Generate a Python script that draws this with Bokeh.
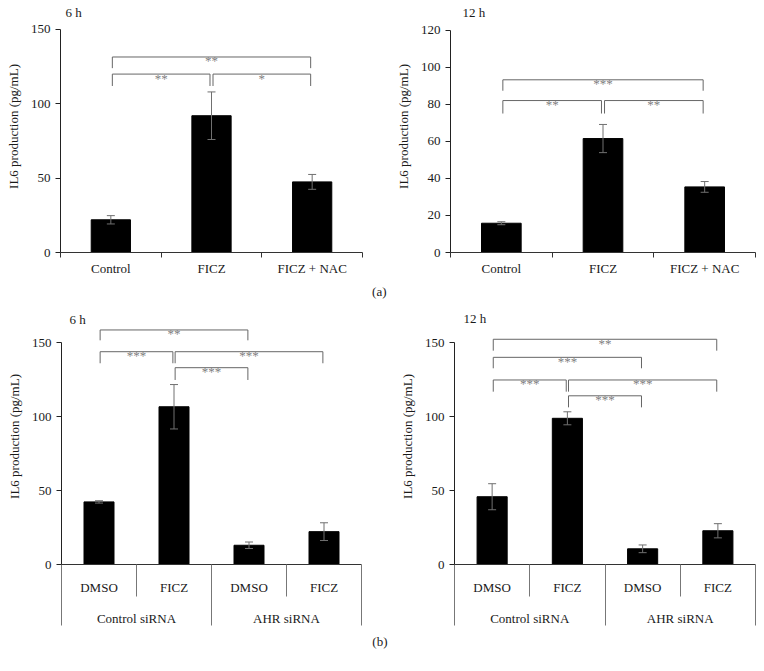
from bokeh.plotting import figure
from bokeh.models import (ColumnDataSource, Range1d, LinearAxis, FixedTicker,
                          Whisker, TeeHead, Label, Title)
from bokeh.layouts import column, row
from bokeh.core.properties import value
from bokeh.embed import file_html
from bokeh.resources import INLINE

FONT = "Liberation Serif"

# ---------------- data ----------------
# (a) 6 h
a6_categories = ["Control", "FICZ", "FICZ + NAC"]
a6_values = [22, 92, 47.5]
a6_errors = [2.8, 16, 5]
a6_br_from = [0, 1, 0]
a6_br_to = [1, 2, 2]
a6_br_level = [120, 120, 131.5]
a6_br_drop = [112, 112, 124]
a6_br_text = ["**", "*", "**"]
a6_yticks = [0, 50, 100, 150]

# (a) 12 h
a12_categories = ["Control", "FICZ", "FICZ + NAC"]
a12_values = [15.8, 61.5, 35.4]
a12_errors = [0.8, 7.6, 2.9]
a12_br_from = [0, 1, 0]
a12_br_to = [1, 2, 2]
a12_br_level = [82, 82, 93.2]
a12_br_drop = [75, 75, 87.3]
a12_br_text = ["**", "**", "***"]
a12_yticks = [0, 20, 40, 60, 80, 100, 120]

# (b) 6 h
b_treatments = ["DMSO", "FICZ", "DMSO", "FICZ"]
b_groups = ["Control siRNA", "AHR siRNA"]
b6_values = [42.3, 106.6, 13.0, 22.2]
b6_errors = [0.8, 15, 2.2, 6]
b6_br_from = [0, 0, 1, 1]
b6_br_to = [2, 1, 3, 2]
b6_br_level = [158.5, 143.8, 143.8, 133]
b6_br_drop = [151.5, 136, 136, 124.7]
b6_br_text = ["**", "***", "***", "***"]

# (b) 12 h
b12_values = [45.8, 98.8, 10.6, 22.8]
b12_errors = [8.8, 4.4, 2.6, 4.8]
b12_br_from = [0, 0, 0, 1, 1]
b12_br_to = [3, 2, 1, 3, 2]
b12_br_level = [152.2, 140, 124.7, 124.7, 114]
b12_br_drop = [144.5, 132.6, 116.8, 116.8, 106.2]
b12_br_text = ["**", "***", "***", "***", "***"]
b_yticks = [0, 50, 100, 150]

Y_LABEL = "IL6 production (pg/mL)"
TEXT_COLOR = "#1a1a1a"
GRAY = "#777777"


def style_labels(ax):
    ax.major_label_text_font = FONT
    ax.major_label_text_font_size = "13px"
    ax.major_label_text_color = TEXT_COLOR


def make_panel(title, cats, vals, errs, bfrom, bto, blevel, bdrop, btext,
               yticks, y_end, width, height, mbl, mbr, mbb, bar_width,
               title_dx, title_dy, groups=None):
    n = len(cats)
    p = figure(width=width, height=height, output_backend="svg",
               toolbar_location=None, x_axis_location=None, y_axis_location=None,
               x_range=Range1d(0, n), y_range=Range1d(0, y_end),
               min_border_left=mbl, min_border_right=mbr,
               min_border_top=0, min_border_bottom=mbb)
    p.outline_line_color = None
    for g in p.grid:
        g.visible = False

    xs = [i + 0.5 for i in range(n)]
    src = ColumnDataSource(dict(x=xs, top=vals,
                                upper=[v + e for v, e in zip(vals, errs)],
                                lower=[v - e for v, e in zip(vals, errs)]))
    p.vbar(x="x", top="top", width=bar_width, source=src,
           fill_color="black", line_color="black")
    p.add_layout(Whisker(base="x", upper="upper", lower="lower", source=src,
                         level="overlay",
                         line_color="#707070", line_width=1,
                         upper_head=TeeHead(size=8, line_color="#707070"),
                         lower_head=TeeHead(size=8, line_color="#707070")))

    # significance brackets
    gap = 0.015
    bx, by, tx, ty = [], [], [], []
    for f, t, lv, dr in zip(bfrom, bto, blevel, bdrop):
        x0 = f + 0.5 + gap
        x1 = t + 0.5 - gap
        bx.append([x0, x0, x1, x1])
        by.append([dr, lv, lv, dr])
        tx.append((x0 + x1) / 2)
        ty.append(lv)
    p.multi_line(xs=bx, ys=by, line_color="#666666", line_width=1)
    p.text(x=tx, y=ty, text=btext, text_font=value(FONT),
           text_font_size=value("13px"), text_color="#808080",
           text_align="center", text_baseline="alphabetic", y_offset=4)

    # y axis
    yax = LinearAxis(bounds=(0, yticks[-1]), ticker=FixedTicker(ticks=yticks),
                     axis_label=Y_LABEL, major_tick_out=5, major_tick_in=0,
                     minor_tick_line_color=None, major_label_standoff=5,
                     axis_label_standoff=7,
                     axis_line_color="#222222", major_tick_line_color="#222222")
    style_labels(yax)
    yax.axis_label_text_font = FONT
    yax.axis_label_text_font_size = "13px"
    yax.axis_label_text_font_style = "normal"
    yax.axis_label_text_color = TEXT_COLOR
    p.add_layout(yax, "left")

    bounds = list(range(n + 1))
    if groups is None:
        xax = LinearAxis(ticker=FixedTicker(ticks=xs, minor_ticks=bounds),
                         major_label_overrides={x: c for x, c in zip(xs, cats)},
                         major_tick_out=0, major_tick_in=0,
                         minor_tick_out=5, minor_tick_in=0,
                         major_label_standoff=3,
                         axis_line_color="#333333",
                         minor_tick_line_color="#333333")
        style_labels(xax)
        p.add_layout(xax, "below")
    else:
        xax = LinearAxis(ticker=FixedTicker(ticks=xs, minor_ticks=bounds),
                         major_label_overrides={x: c for x, c in zip(xs, cats)},
                         major_tick_out=0, major_tick_in=0,
                         minor_tick_out=32, minor_tick_in=0,
                         major_label_standoff=-17,
                         axis_line_color="#333333",
                         minor_tick_line_color=GRAY)
        style_labels(xax)
        p.add_layout(xax, "below")
        per = n // len(groups)
        gcent = [per * k + per / 2 for k in range(len(groups))]
        gbounds = [per * k for k in range(len(groups) + 1)]
        gax = LinearAxis(ticker=FixedTicker(ticks=gcent, minor_ticks=gbounds),
                         major_label_overrides={int(x): c for x, c in zip(gcent, groups)},
                         major_tick_out=0, major_tick_in=0,
                         minor_tick_out=28, minor_tick_in=6,
                         major_label_standoff=-15,
                         axis_line_color=None,
                         minor_tick_line_color=GRAY)
        style_labels(gax)
        p.add_layout(gax, "below")

    p.add_layout(Label(x=0, y=yticks[-1], x_offset=title_dx, y_offset=title_dy,
                       text=title, text_font=FONT, text_font_size="13px",
                       text_color=TEXT_COLOR, text_baseline="alphabetic"))
    return p


def panel_tag(p, text, offset):
    p.add_layout(Title(text=text, align="right", offset=offset,
                       vertical_align="top", standoff=10,
                       text_font=FONT, text_font_size="13px",
                       text_font_style="normal", text_color=TEXT_COLOR), "below")


pA1 = make_panel("6 h", a6_categories, a6_values, a6_errors, a6_br_from, a6_br_to,
                 a6_br_level, a6_br_drop, a6_br_text, a6_yticks, 169.5,
                 388, 308, 60, 26, 56, 0.39, 5, 17)
panel_tag(pA1, "(a)", -24)
pA2 = make_panel("12 h", a12_categories, a12_values, a12_errors, a12_br_from, a12_br_to,
                 a12_br_level, a12_br_drop, a12_br_text, a12_yticks, 136.0,
                 374, 308, 62, 7, 56, 0.39, 12, 18)

pB1 = make_panel("6 h", b_treatments, b6_values, b6_errors, b6_br_from, b6_br_to,
                 b6_br_level, b6_br_drop, b6_br_text, b_yticks, 173.0,
                 388, 360, 61, 27, 104, 0.4, 8, 23, groups=b_groups)
panel_tag(pB1, "(b)", -26)
pB2 = make_panel("12 h", b_treatments, b12_values, b12_errors, b12_br_from, b12_br_to,
                 b12_br_level, b12_br_drop, b12_br_text, b_yticks, 173.0,
                 374, 360, 66, 7, 104, 0.4, 9, 24, groups=b_groups)

layout = column(row(pA1, pA2), row(pB1, pB2))
open("out.html", "w").write(file_html(layout, INLINE))
